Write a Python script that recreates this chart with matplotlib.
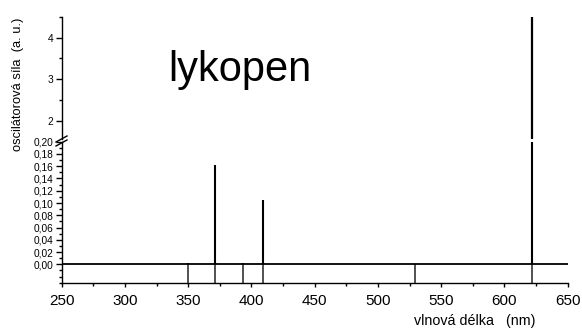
import matplotlib
matplotlib.use("Agg")
import matplotlib.pyplot as plt
from matplotlib.ticker import MultipleLocator, FuncFormatter
from matplotlib.lines import Line2D

plt.rcParams['font.family'] = ['Liberation Sans', 'DejaVu Sans']

# data
wavelengths = [350, 371, 393, 409, 529, 622]
osc_strength = [0.002, 0.162, 0.002, 0.105, 0.0, 4.5]
x_ticks = [250, 300, 350, 400, 450, 500, 550, 600, 650]
title_text = "lykopen"
xlabel = "vlnová délka   (nm)"
ylabel = "oscilátorová síla  (a. u.)"

W, H = 582, 331
fig = plt.figure(figsize=(W / 100, H / 100), dpi=100)

def fx(px):
    return px / W

def fy(py):
    return 1 - py / H

left, right = fx(61.7), fx(567.7)
# bottom panel: 0.20 at y=141.7, bottom at 283
axb = fig.add_axes([left, fy(283), right - left, fy(141.7) - fy(283)])
# top panel: 4.5 at y=16.7, bottom at y=139
axt = fig.add_axes([left, fy(139), right - left, fy(16.7) - fy(139)])

ylo_b, yhi_b = -0.0305, 0.2
ylo_t, yhi_t = 1.568, 4.5

for ax in (axb, axt):
    ax.set_xlim(250, 650)
    ax.spines['top'].set_visible(False)
    ax.spines['right'].set_visible(False)
    ax.spines['left'].set_linewidth(1.0)
    ax.spines['bottom'].set_linewidth(1.0)
    ax.patch.set_alpha(0)

axb.set_ylim(ylo_b, yhi_b)
axt.set_ylim(ylo_t, yhi_t)
axt.spines['bottom'].set_visible(False)

# sticks
axb.vlines(wavelengths, 0, osc_strength, colors='black', linewidth=1.5)
axt.vlines(wavelengths, 0, osc_strength, colors='black', linewidth=1.6)
# drop lines below zero
axb.vlines(wavelengths, ylo_b, 0, colors='#333333', linewidth=1.2)
axb.axhline(0, color='black', linewidth=1.3)

# ticks
axb.set_xticks(x_ticks)
axb.xaxis.set_minor_locator(MultipleLocator(25))
axb.tick_params(axis='x', which='major', direction='out', length=3, width=1.0, labelsize=11, pad=5)
axb.tick_params(axis='x', which='minor', direction='out', length=2, width=1.0)
axb.yaxis.set_minor_locator(MultipleLocator(0.01))
axb.set_yticks([i * 0.02 for i in range(11)])
axb.yaxis.set_major_formatter(FuncFormatter(lambda v, p: ("%.2f" % v).replace('.', ',')))
axb.tick_params(axis='y', which='major', direction='out', length=4, width=1.0, labelsize=7.3, pad=2)
axb.tick_params(axis='y', which='minor', direction='out', length=2, width=1.0)

axt.set_xticks([])
axt.set_yticks([2, 3, 4])
axt.yaxis.set_minor_locator(MultipleLocator(0.5))
axt.tick_params(axis='y', which='major', direction='out', length=4, width=1.0, labelsize=7.3, pad=2)
axt.tick_params(axis='y', which='minor', direction='out', length=2, width=1.0)
axt.tick_params(axis='x', which='both', length=0)

# break marks
for dy in (-2.0, 2.0):
    y0 = 141 + dy
    fig.add_artist(Line2D([fx(56), fx(67)], [fy(y0 + 3), fy(y0 - 3)], color='black', linewidth=1.0))

fig.text(fx(240), fy(70), title_text, fontsize=30, ha='center', va='center')
fig.text(fx(475), fy(321), xlabel, fontsize=10.3, ha='center', va='center')
fig.text(fx(18), fy(84), ylabel, fontsize=9.3, ha='center', va='center', rotation=90)

fig.savefig("out.png", dpi=100)
